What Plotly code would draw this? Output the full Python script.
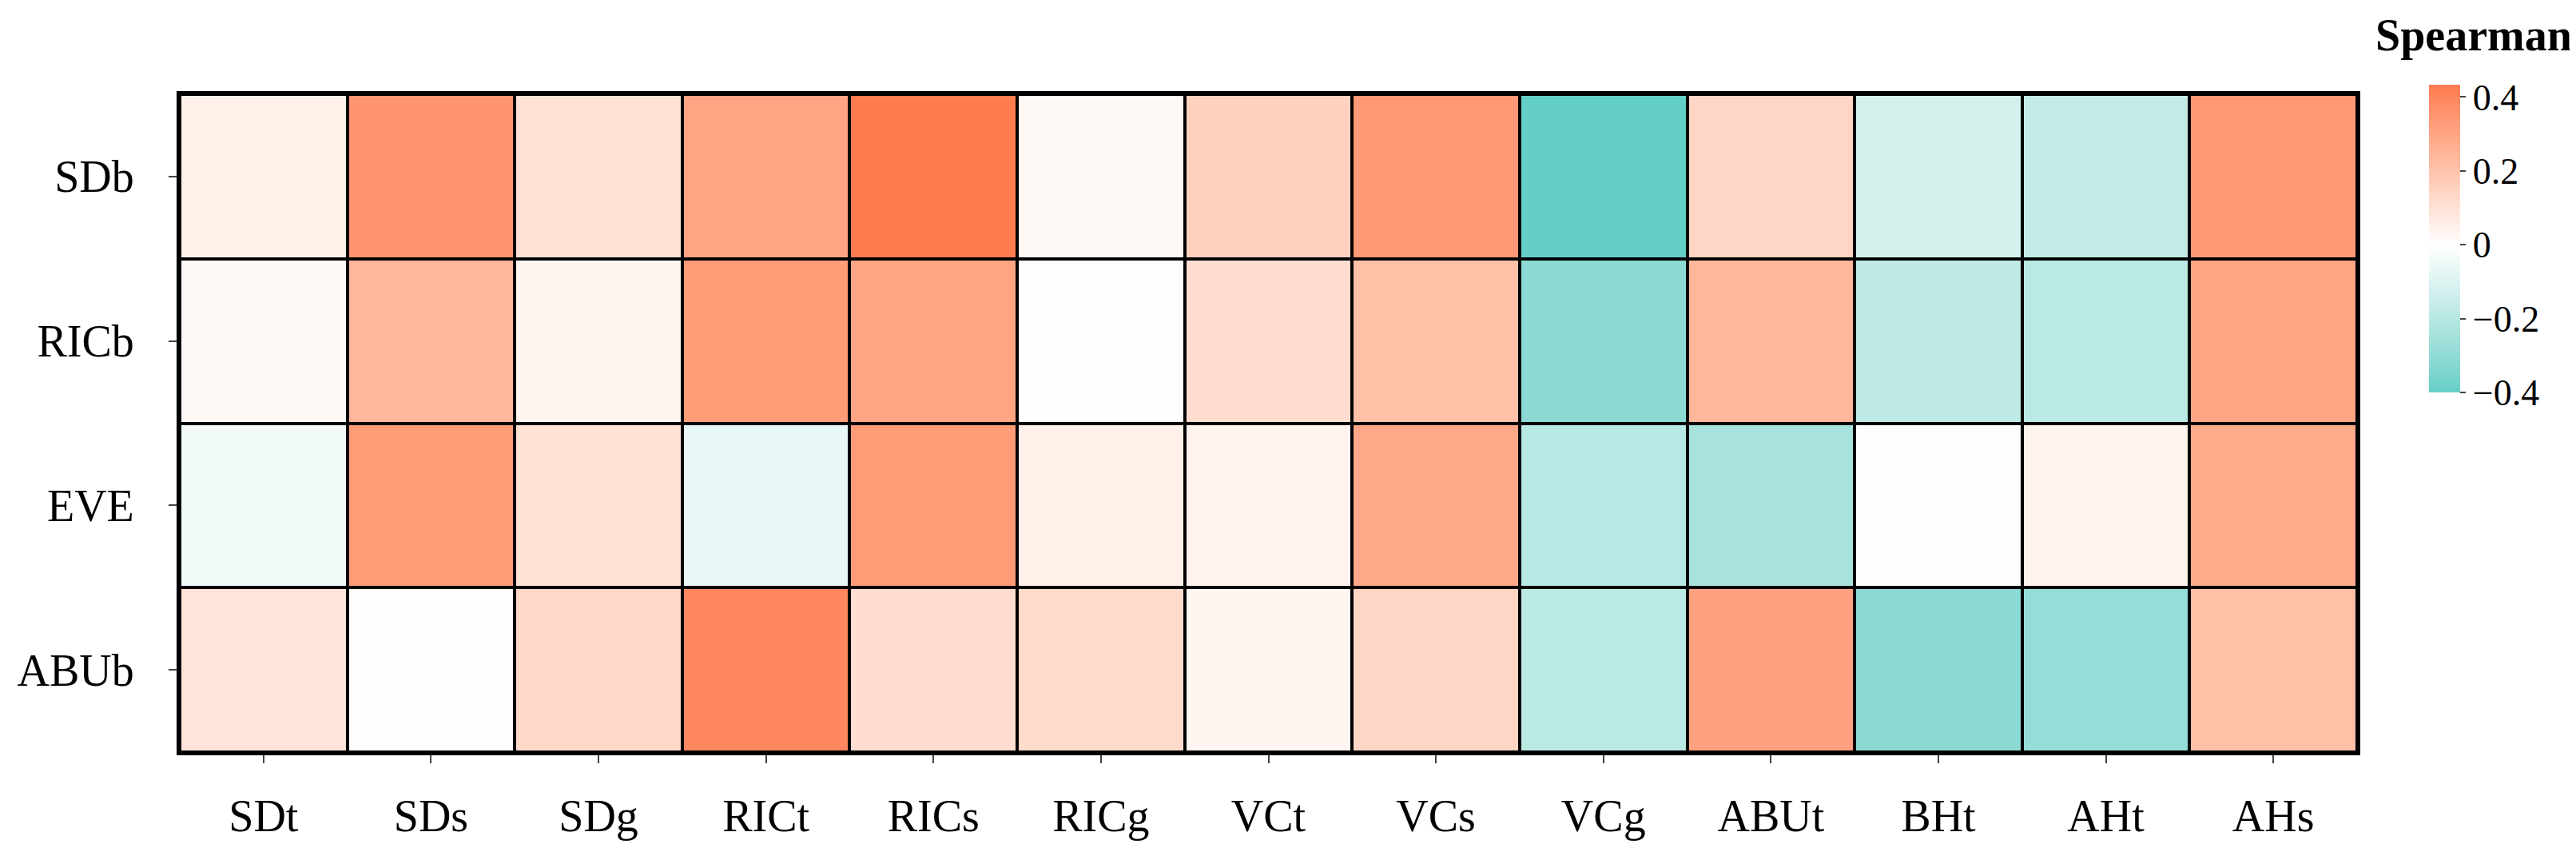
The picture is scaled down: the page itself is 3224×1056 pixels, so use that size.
import numpy as np
import plotly.graph_objects as go

# ---------------- data ----------------
col_labels = ["SDt", "SDs", "SDg", "RICt", "RICs", "RICg", "VCt", "VCs",
              "VCg", "ABUt", "BHt", "AHt", "AHs"]
row_labels = ["SDb", "RICb", "EVE", "ABUb"]

sdb_vals = [0.05, 0.35, 0.10, 0.30, 0.433, 0.02, 0.15, 0.34, -0.40, 0.14, -0.12, -0.17, 0.34]
ricb_vals = [0.02, 0.24, 0.03, 0.33, 0.30, 0.002, 0.11, 0.21, -0.31, 0.24, -0.18, -0.19, 0.30]
eve_vals = [-0.04, 0.33, 0.10, -0.07, 0.33, 0.05, 0.04, 0.29, -0.20, -0.24, -0.01, 0.04, 0.28]
abub_vals = [0.09, 0.005, 0.13, 0.39, 0.11, 0.12, 0.03, 0.14, -0.19, 0.31, -0.31, -0.29, 0.21]

cbar_tickvals = [-0.4, -0.2, 0, 0.2, 0.4]
cbar_ticktext = ["\u22120.4", "\u22120.2", "0", "0.2", "0.4"]
legend_title = "Spearman"

z = [sdb_vals, ricb_vals, eve_vals, abub_vals]

# ---------------- colour scale (gradient2-like, Lab interpolation) ----------------
LOW, MID, HIGH = "#52CBC3", "#FFFFFF", "#FF7B50"


def hex_rgb(h):
    h = h.lstrip("#")
    return np.array([int(h[i:i + 2], 16) / 255 for i in (0, 2, 4)])


def to_lin(c):
    return np.where(c <= 0.04045, c / 12.92, ((c + 0.055) / 1.055) ** 2.4)


def from_lin(c):
    c = np.clip(c, 0, 1)
    return np.where(c <= 0.0031308, c * 12.92, 1.055 * c ** (1 / 2.4) - 0.055)


M = np.array([[0.4124, 0.3576, 0.1805], [0.2126, 0.7152, 0.0722], [0.0193, 0.1192, 0.9505]])
Minv = np.linalg.inv(M)
WHITE = np.array([0.95047, 1.0, 1.08883])


def rgb_lab(rgb):
    xyz = M @ to_lin(rgb) / WHITE
    f = np.where(xyz > 0.008856, np.cbrt(xyz), 7.787 * xyz + 16 / 116)
    return np.array([116 * f[1] - 16, 500 * (f[0] - f[1]), 200 * (f[1] - f[2])])


def lab_rgb(lab):
    fy = (lab[0] + 16) / 116
    fx = fy + lab[1] / 500
    fz = fy - lab[2] / 200
    f = np.array([fx, fy, fz])
    xyz = np.where(f ** 3 > 0.008856, f ** 3, (f - 16 / 116) / 7.787) * WHITE
    return from_lin(Minv @ xyz)


lab_low, lab_mid, lab_high = rgb_lab(hex_rgb(LOW)), rgb_lab(hex_rgb(MID)), rgb_lab(hex_rgb(HIGH))

zarr = np.array(z, dtype=float)
zmin, zmax = float(zarr.min()), float(zarr.max())
half = max(abs(zmin), abs(zmax))

colorscale = []
for f in np.linspace(0, 1, 61):
    v = zmin + f * (zmax - zmin)
    p = 0.5 + v / (2 * half)
    if p < 0.5:
        t = p / 0.5
        lab = lab_low + (lab_mid - lab_low) * t
    else:
        t = (p - 0.5) / 0.5
        lab = lab_mid + (lab_high - lab_mid) * t
    rgb = np.round(lab_rgb(lab) * 255).astype(int)
    colorscale.append([float(f), f"rgb({rgb[0]},{rgb[1]},{rgb[2]})"])

# ---------------- figure ----------------
W, H = 3224, 1056
L, R, T, B = 217, 282, 110, 107
pw, ph = W - L - R, H - T - B

FONT = "Liberation Serif, Times New Roman, serif"

fig = go.Figure(go.Heatmap(
    z=z, x=col_labels, y=row_labels,
    zmin=zmin, zmax=zmax,
    colorscale=colorscale,
    xgap=4, ygap=4,
    colorbar=dict(
        thickness=39,
        thicknessmode="pixels",
        len=385,
        lenmode="pixels",
        x=(3032 - L) / pw, xanchor="left", xpad=0,
        y=(H - B - 98) / ph, yanchor="top", ypad=0,
        outlinewidth=0,
        tickmode="array", tickvals=cbar_tickvals, ticktext=cbar_ticktext,
        ticks="outside", ticklen=7, tickwidth=2, tickcolor="#444",
        tickfont=dict(family=FONT, size=46, color="black"),
    ),
    hoverongaps=False,
))

axis_common = dict(
    showline=True, linewidth=4, linecolor="black", mirror=True,
    ticks="outside", ticklen=10, tickwidth=2, tickcolor="#444",
    showgrid=False, zeroline=False,
    tickfont=dict(family=FONT, size=56, color="black"),
)

fig.update_xaxes(**axis_common, ticklabelstandoff=18)
fig.update_yaxes(**axis_common, autorange="reversed", ticklabelstandoff=32)

fig.add_annotation(
    text=f"<b>{legend_title}</b>",
    xref="paper", yref="paper",
    x=(3088 - L) / pw, y=(H - B - 68) / ph,
    xanchor="center", yanchor="bottom",
    showarrow=False,
    font=dict(family=FONT, size=56, color="black"),
)

fig.update_layout(
    width=W, height=H,
    margin=dict(l=L, r=R, t=T, b=B, pad=0),
    plot_bgcolor="black",
    paper_bgcolor="white",
    font=dict(family=FONT, color="black"),
)

fig.write_html("out.html")
